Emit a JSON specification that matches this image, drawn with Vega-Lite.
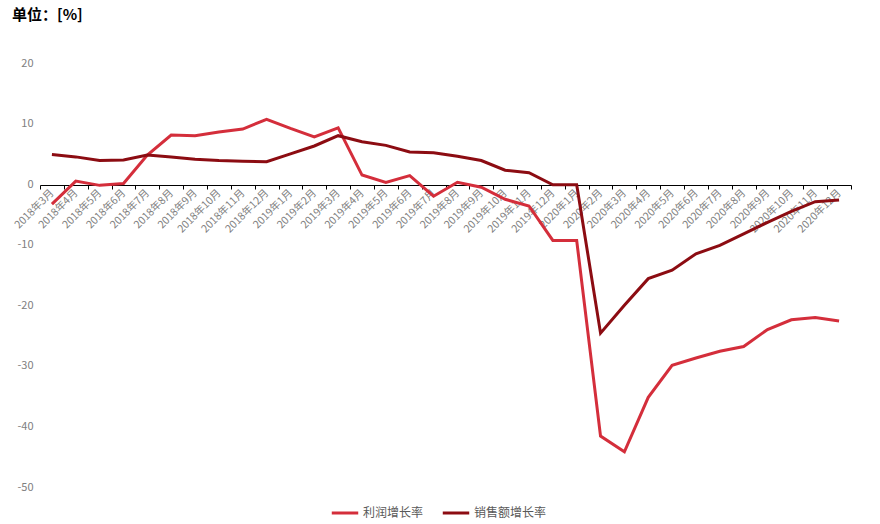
{
  "$schema": "https://vega.github.io/schema/vega-lite/v6.json",
  "autosize": {"type": "none"},
  "width": 811,
  "height": 424,
  "padding": {"left": 40, "top": 63, "right": 29, "bottom": 37},
  "background": "#ffffff",
  "config": {
    "font": "Noto Sans CJK SC",
    "view": {"stroke": null}
  },
  "title": {
    "text": "单位：[%]",
    "anchor": "start",
    "frame": "group",
    "dx": -28,
    "offset": 34,
    "fontSize": 15,
    "fontWeight": "bold",
    "color": "#000000"
  },
  "data": {
    "values": [
      {"month": "2018年3月", "series": "利润增长率", "value": -3.3},
      {"month": "2018年4月", "series": "利润增长率", "value": 0.5},
      {"month": "2018年5月", "series": "利润增长率", "value": -0.2},
      {"month": "2018年6月", "series": "利润增长率", "value": 0.1},
      {"month": "2018年7月", "series": "利润增长率", "value": 4.8},
      {"month": "2018年8月", "series": "利润增长率", "value": 8.1},
      {"month": "2018年9月", "series": "利润增长率", "value": 8.0},
      {"month": "2018年10月", "series": "利润增长率", "value": 8.6},
      {"month": "2018年11月", "series": "利润增长率", "value": 9.1},
      {"month": "2018年12月", "series": "利润增长率", "value": 10.7},
      {"month": "2019年1月", "series": "利润增长率", "value": 9.2},
      {"month": "2019年2月", "series": "利润增长率", "value": 7.8},
      {"month": "2019年3月", "series": "利润增长率", "value": 9.3},
      {"month": "2019年4月", "series": "利润增长率", "value": 1.5},
      {"month": "2019年5月", "series": "利润增长率", "value": 0.3},
      {"month": "2019年6月", "series": "利润增长率", "value": 1.4},
      {"month": "2019年7月", "series": "利润增长率", "value": -2.0},
      {"month": "2019年8月", "series": "利润增长率", "value": 0.3},
      {"month": "2019年9月", "series": "利润增长率", "value": -0.5},
      {"month": "2019年10月", "series": "利润增长率", "value": -2.5},
      {"month": "2019年11月", "series": "利润增长率", "value": -3.6},
      {"month": "2019年12月", "series": "利润增长率", "value": -9.3},
      {"month": "2020年1月", "series": "利润增长率", "value": -9.3},
      {"month": "2020年2月", "series": "利润增长率", "value": -41.6},
      {"month": "2020年3月", "series": "利润增长率", "value": -44.2},
      {"month": "2020年4月", "series": "利润增长率", "value": -35.2},
      {"month": "2020年5月", "series": "利润增长率", "value": -29.9},
      {"month": "2020年6月", "series": "利润增长率", "value": -28.7},
      {"month": "2020年7月", "series": "利润增长率", "value": -27.6},
      {"month": "2020年8月", "series": "利润增长率", "value": -26.8},
      {"month": "2020年9月", "series": "利润增长率", "value": -24.0},
      {"month": "2020年10月", "series": "利润增长率", "value": -22.4},
      {"month": "2020年11月", "series": "利润增长率", "value": -22.0},
      {"month": "2020年12月", "series": "利润增长率", "value": -22.6},
      {"month": "2018年3月", "series": "销售额增长率", "value": 4.9},
      {"month": "2018年4月", "series": "销售额增长率", "value": 4.5},
      {"month": "2018年5月", "series": "销售额增长率", "value": 3.9},
      {"month": "2018年6月", "series": "销售额增长率", "value": 4.0},
      {"month": "2018年7月", "series": "销售额增长率", "value": 4.8},
      {"month": "2018年8月", "series": "销售额增长率", "value": 4.5},
      {"month": "2018年9月", "series": "销售额增长率", "value": 4.1},
      {"month": "2018年10月", "series": "销售额增长率", "value": 3.9},
      {"month": "2018年11月", "series": "销售额增长率", "value": 3.8},
      {"month": "2018年12月", "series": "销售额增长率", "value": 3.7},
      {"month": "2019年1月", "series": "销售额增长率", "value": 5.0},
      {"month": "2019年2月", "series": "销售额增长率", "value": 6.3},
      {"month": "2019年3月", "series": "销售额增长率", "value": 8.0},
      {"month": "2019年4月", "series": "销售额增长率", "value": 7.0},
      {"month": "2019年5月", "series": "销售额增长率", "value": 6.4},
      {"month": "2019年6月", "series": "销售额增长率", "value": 5.3},
      {"month": "2019年7月", "series": "销售额增长率", "value": 5.2},
      {"month": "2019年8月", "series": "销售额增长率", "value": 4.6},
      {"month": "2019年9月", "series": "销售额增长率", "value": 3.9},
      {"month": "2019年10月", "series": "销售额增长率", "value": 2.3},
      {"month": "2019年11月", "series": "销售额增长率", "value": 1.9},
      {"month": "2019年12月", "series": "销售额增长率", "value": -0.1},
      {"month": "2020年1月", "series": "销售额增长率", "value": -0.1},
      {"month": "2020年2月", "series": "销售额增长率", "value": -24.6},
      {"month": "2020年3月", "series": "销售额增长率", "value": -20.0},
      {"month": "2020年4月", "series": "销售额增长率", "value": -15.6},
      {"month": "2020年5月", "series": "销售额增长率", "value": -14.2},
      {"month": "2020年6月", "series": "销售额增长率", "value": -11.5},
      {"month": "2020年7月", "series": "销售额增长率", "value": -10.1},
      {"month": "2020年8月", "series": "销售额增长率", "value": -8.2},
      {"month": "2020年9月", "series": "销售额增长率", "value": -6.3},
      {"month": "2020年10月", "series": "销售额增长率", "value": -4.5},
      {"month": "2020年11月", "series": "销售额增长率", "value": -2.9},
      {"month": "2020年12月", "series": "销售额增长率", "value": -2.6}
    ]
  },
  "mark": {"type": "line", "strokeWidth": 3, "strokeJoin": "miter"},
  "encoding": {
    "x": {
      "field": "month",
      "type": "nominal",
      "sort": null,
      "scale": {"type": "band", "paddingInner": 0, "paddingOuter": 0},
      "axis": {
        "title": null,
        "offset": -302,
        "domainColor": "#000000",
        "domainWidth": 1,
        "tickColor": "#000000",
        "tickSize": 4,
        "tickBand": "extent",
        "labelAngle": -45,
        "labelAlign": "right",
        "labelBaseline": "middle",
        "labelFontSize": 10.5,
        "labelColor": "#808080",
        "labelPadding": 2,
        "grid": false
      }
    },
    "y": {
      "field": "value",
      "type": "quantitative",
      "scale": {"domain": [-50, 20], "nice": false, "zero": false},
      "axis": {
        "title": null,
        "values": [-50, -40, -30, -20, -10, 0, 10, 20],
        "labelExpr": "datum.value < 0 ? '-' + abs(datum.value) : '' + datum.value",
        "domain": false,
        "ticks": false,
        "grid": false,
        "labelFontSize": 11,
        "labelColor": "#808080",
        "labelPadding": 7
      }
    },
    "color": {
      "field": "series",
      "type": "nominal",
      "scale": {
        "domain": ["利润增长率", "销售额增长率"],
        "range": ["#d42e3b", "#8c0c12"]
      },
      "legend": {
        "title": null,
        "orient": "none",
        "legendX": 290,
        "legendY": 435,
        "direction": "horizontal",
        "symbolType": "stroke",
        "symbolStrokeWidth": 3,
        "symbolSize": 700,
        "labelFontSize": 12,
        "labelColor": "#595959",
        "columnPadding": 12,
        "labelOffset": 3
      }
    }
  }
}
